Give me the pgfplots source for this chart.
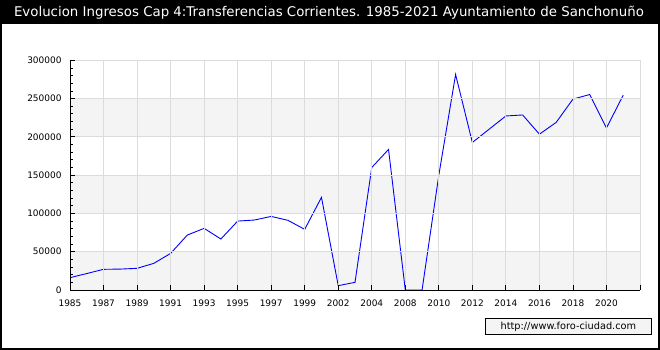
\documentclass[border=0pt]{standalone}
\usepackage{fontspec}
\setmainfont{DejaVu Sans}
\usepackage{pgfplots}
\pgfplotsset{compat=1.18}
\definecolor{band}{HTML}{F4F4F4}
\definecolor{gridc}{HTML}{DCDCDC}
\definecolor{wmfill}{HTML}{F4F4F4}
\pgfplotstableread{
idx val
0 16100
1 21500
2 27000
3 27300
4 28300
5 34800
6 47800
7 71800
8 80500
9 66600
10 90000
11 91400
12 96100
13 91000
14 79200
15 121000
16 5650
17 10000
18 160000
19 183600
20 0
21 0
22 150000
23 281500
24 192700
25 210000
26 227300
27 228600
28 203500
29 218900
30 249300
31 255300
32 211600
33 254500
}\datatable
\begin{document}
\begin{tikzpicture}
\useasboundingbox (0bp,0bp) rectangle (660bp,350bp);
\fill[white] (0bp,0bp) rectangle (660bp,350bp);
\fill[black] (0bp,326bp) rectangle (660bp,350bp);
\node[white, font=\fontsize{13.4}{15}\selectfont, inner sep=0] at (329bp,337.5bp) {Evolucion Ingresos Cap 4:Transferencias Corrientes. 1985-2021 Ayuntamiento de Sanchonuño};
\begin{axis}[
  at={(70bp,60bp)}, anchor=south west,
  scale only axis, width=570bp, height=229.7bp,
  axis on top,
  xmin=0, xmax=34, ymin=0, ymax=300000,
  axis lines*=left, axis line style={-, black, line width=0.8bp},
  xtick={0,2,...,34},
  xticklabels={1985,1987,1989,1991,1993,1995,1997,1999,2002,2004,2008,2010,2012,2014,2016,2018,2020,{}},
  ytick={0,50000,...,300000},
  minor y tick num=4,
  scaled y ticks=false,
  yticklabel style={/pgf/number format/fixed, /pgf/number format/1000 sep={}, /pgf/number format/assume math mode=true, font=\fontsize{9}{10}\selectfont, xshift=-5bp},
  xticklabel style={font=\fontsize{9}{10}\selectfont, yshift=-6.5bp},
  tick align=inside,
  major tick length=5bp, minor tick length=3bp,
  tick style={black, line width=0.8bp},
  grid=major,
  major grid style={gridc, line width=0.8bp},
  clip=true,
]
\addplot[fill=band, draw=none] coordinates {(0,0) (34,0) (34,50000) (0,50000)} -- cycle;
\addplot[fill=band, draw=none] coordinates {(0,100000) (34,100000) (34,150000) (0,150000)} -- cycle;
\addplot[fill=band, draw=none] coordinates {(0,200000) (34,200000) (34,250000) (0,250000)} -- cycle;
\addplot[blue, line width=0.9bp, mark=none] table[x=idx, y=val] {\datatable};
\end{axis}
\node[draw=black, fill=wmfill, line width=0.8bp, minimum width=166bp, minimum height=16bp, inner sep=0, anchor=south west, font=\fontsize{9.8}{11}\selectfont] at (485bp,15bp) {http://www.foro-ciudad.com};
\draw[black, line width=2bp] (1bp,1bp) rectangle (659bp,349bp);
\end{tikzpicture}
\end{document}
